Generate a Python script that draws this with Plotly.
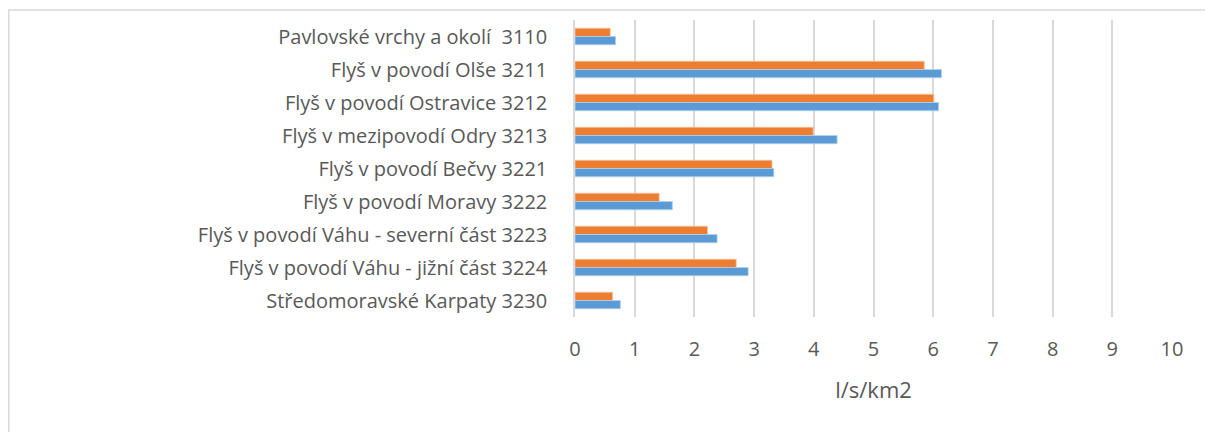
import plotly.graph_objects as go

categories = [
    "Pavlovské vrchy a okolí  3110",
    "Flyš v povodí Olše 3211",
    "Flyš v povodí Ostravice 3212",
    "Flyš v mezipovodí Odry 3213",
    "Flyš v povodí Bečvy 3221",
    "Flyš v povodí Moravy 3222",
    "Flyš v povodí Váhu - severní část 3223",
    "Flyš v povodí Váhu - jižní část 3224",
    "Středomoravské Karpaty 3230",
]
orange_values = [0.59, 5.85, 6.01, 3.99, 3.30, 1.41, 2.22, 2.70, 0.63]
blue_values = [0.68, 6.14, 6.09, 4.39, 3.33, 1.63, 2.38, 2.90, 0.76]
x_ticks = list(range(0, 11))

# page has an 8px body margin; figure coords = page coords - 8
W, H = 1205, 424
L, R, T, B = 567, 1164, 12, 309

fig = go.Figure()
fig.add_trace(go.Bar(y=categories, x=orange_values, orientation="h",
                     marker=dict(color="#ED7D31", line=dict(color="#F7C3A0", width=0.8)),
                     showlegend=False))
fig.add_trace(go.Bar(y=categories, x=blue_values, orientation="h",
                     marker=dict(color="#5B9BD5", line=dict(color="#B4D0EC", width=0.8)),
                     showlegend=False))

pw, ph = R - L, B - T
fig.add_shape(type="rect", xref="paper", yref="paper",
              x0=(0.8 - L) / pw, x1=(W + 50 - L) / pw,
              y0=-(H + 50 - B) / ph, y1=1 + (T - 2) / ph,
              line=dict(color="#D9D9D9", width=1.5), fillcolor="rgba(0,0,0,0)", layer="below")

font = "'Open Sans', 'Noto Sans', sans-serif"
fig.update_layout(
    width=W, height=H,
    margin=dict(l=L, r=W - R, t=T, b=H - B, pad=0),
    paper_bgcolor="white", plot_bgcolor="white",
    barmode="group", bargap=0.5, bargroupgap=0.0,
    font=dict(family=font, color="#595959", size=20),
    xaxis=dict(range=[0, 10], tickvals=x_ticks, showgrid=True, gridcolor="#D9D9D9",
               gridwidth=1.5, zeroline=False, showline=False, ticks="",
               ticklabelstandoff=18, tickfont=dict(size=20, color="#595959"),
               title=dict(text="l/s/km2", standoff=21, font=dict(size=22, color="#595959")),
               fixedrange=True),
    yaxis=dict(autorange="reversed", showgrid=False, zeroline=False, showline=True,
               linecolor="#D9D9D9", linewidth=1.5, ticks="", ticklabelstandoff=22,
               tickfont=dict(size=20, color="#595959"), fixedrange=True),
)

fig.write_html("out.html")
